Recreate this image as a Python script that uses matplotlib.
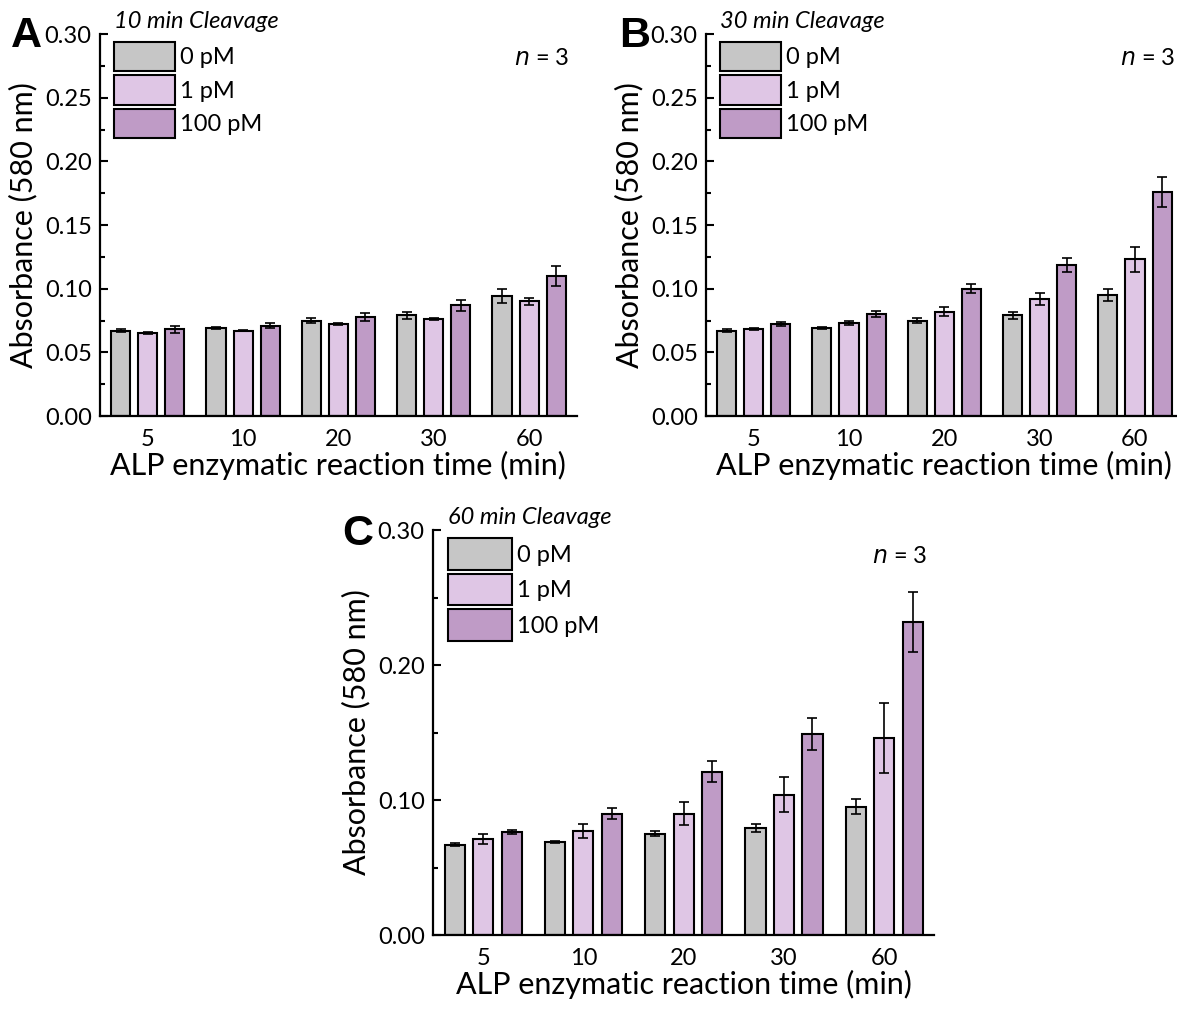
import matplotlib
matplotlib.use("Agg")
import matplotlib.pyplot as plt
from matplotlib.ticker import MultipleLocator, FormatStrFormatter
import numpy as np

plt.rcParams['font.family'] = ['Lato', 'DejaVu Sans']

# Data
times = ['5', '10', '20', '30', '60']  # ALP reaction time [min]
concentrations = ['0 pM', '1 pM', '100 pM']
colors = ['#c6c6c6', '#dfc6e5', '#bf9bc6']

# 10 min cleavage
a_means = [[0.067, 0.069, 0.075, 0.079, 0.094],
           [0.065, 0.067, 0.072, 0.076, 0.090],
           [0.068, 0.071, 0.078, 0.087, 0.110]]
a_errs = [[0.001, 0.001, 0.002, 0.003, 0.0055],
          [0.0008, 0.0005, 0.0007, 0.0008, 0.0025],
          [0.0024, 0.002, 0.003, 0.0045, 0.008]]

# 30 min cleavage
b_means = [[0.067, 0.069, 0.075, 0.079, 0.095],
           [0.068, 0.073, 0.082, 0.092, 0.123],
           [0.072, 0.080, 0.100, 0.119, 0.176]]
b_errs = [[0.001, 0.001, 0.002, 0.0026, 0.005],
          [0.0008, 0.0016, 0.0034, 0.005, 0.010],
          [0.0016, 0.0024, 0.0034, 0.0055, 0.012]]

# 60 min cleavage
c_means = [[0.067, 0.069, 0.075, 0.079, 0.095],
           [0.071, 0.077, 0.090, 0.104, 0.146],
           [0.076, 0.090, 0.121, 0.149, 0.232]]
c_errs = [[0.001, 0.001, 0.002, 0.003, 0.0057],
          [0.0037, 0.005, 0.0087, 0.013, 0.026],
          [0.0015, 0.0044, 0.008, 0.0116, 0.022]]


def draw_panel(ax, means, errs, title, major, minor, handlelength, handleheight):
    x = np.arange(1, len(times) + 1)
    offsets = [-0.284, 0, 0.284]
    for i in range(len(concentrations)):
        ax.bar(x + offsets[i], means[i], 0.2, color=colors[i], edgecolor='black',
               linewidth=1.5, label=concentrations[i], zorder=2)
        ax.errorbar(x + offsets[i], means[i], yerr=errs[i], fmt='none', ecolor='black',
                    elinewidth=1.2, capsize=3.5, capthick=1.2, zorder=3)

    ax.set_xlim(0.5, 5.5)
    ax.set_ylim(0, 0.30)
    ax.set_xticks(x)
    ax.set_xticklabels(times)
    ax.yaxis.set_major_locator(MultipleLocator(major))
    ax.yaxis.set_minor_locator(MultipleLocator(minor))
    ax.yaxis.set_major_formatter(FormatStrFormatter('%.2f'))
    ax.tick_params(axis='y', which='major', direction='in', length=6, width=1.5, labelsize=17, pad=6)
    ax.tick_params(axis='y', which='minor', direction='in', length=3.5, width=1.5)
    ax.tick_params(axis='x', length=0, labelsize=17, pad=9)
    for side in ['top', 'right']:
        ax.spines[side].set_visible(False)
    for side in ['left', 'bottom']:
        ax.spines[side].set_linewidth(1.6)

    ax.set_xlabel('ALP enzymatic reaction time (min)', fontsize=22, labelpad=1)
    ax.set_ylabel('Absorbance (580 nm)', fontsize=22, labelpad=5)
    ax.text(0.03, 1.005, title, transform=ax.transAxes, fontsize=17, style='italic',
            ha='left', va='bottom')
    ax.text(0.985, 0.935, r'$\it{n}$ = 3', transform=ax.transAxes, fontsize=17,
            ha='right', va='center')
    ax.legend(loc='upper left', bbox_to_anchor=(0.029, 0.98), frameon=False, fontsize=17,
              handlelength=handlelength, handleheight=handleheight, labelspacing=0.17,
              handletextpad=0.2, borderpad=0, borderaxespad=0)


def main():
    fig = plt.figure(figsize=(11.77, 10.14), dpi=100)
    ax_a = fig.add_axes([0.085, 0.5897, 0.405, 0.3767])
    ax_b = fig.add_axes([0.5998, 0.5897, 0.405, 0.3767])
    ax_c = fig.add_axes([0.3679, 0.0779, 0.426, 0.3994])

    draw_panel(ax_a, a_means, a_errs, '10 min Cleavage', 0.05, 0.025, 2.6, 1.55)
    draw_panel(ax_b, b_means, b_errs, '30 min Cleavage', 0.05, 0.025, 2.6, 1.55)
    draw_panel(ax_c, c_means, c_errs, '60 min Cleavage', 0.10, 0.05, 2.75, 1.68)

    letter_font = dict(fontsize=31, fontweight='bold', family='Liberation Sans')
    fig.text(0.009, 0.9536, 'A', **letter_font)
    fig.text(0.526, 0.9536, 'B', **letter_font)
    fig.text(0.291, 0.4625, 'C', **letter_font)

    fig.savefig('out.png', dpi=100)


if __name__ == "__main__":
    main()
